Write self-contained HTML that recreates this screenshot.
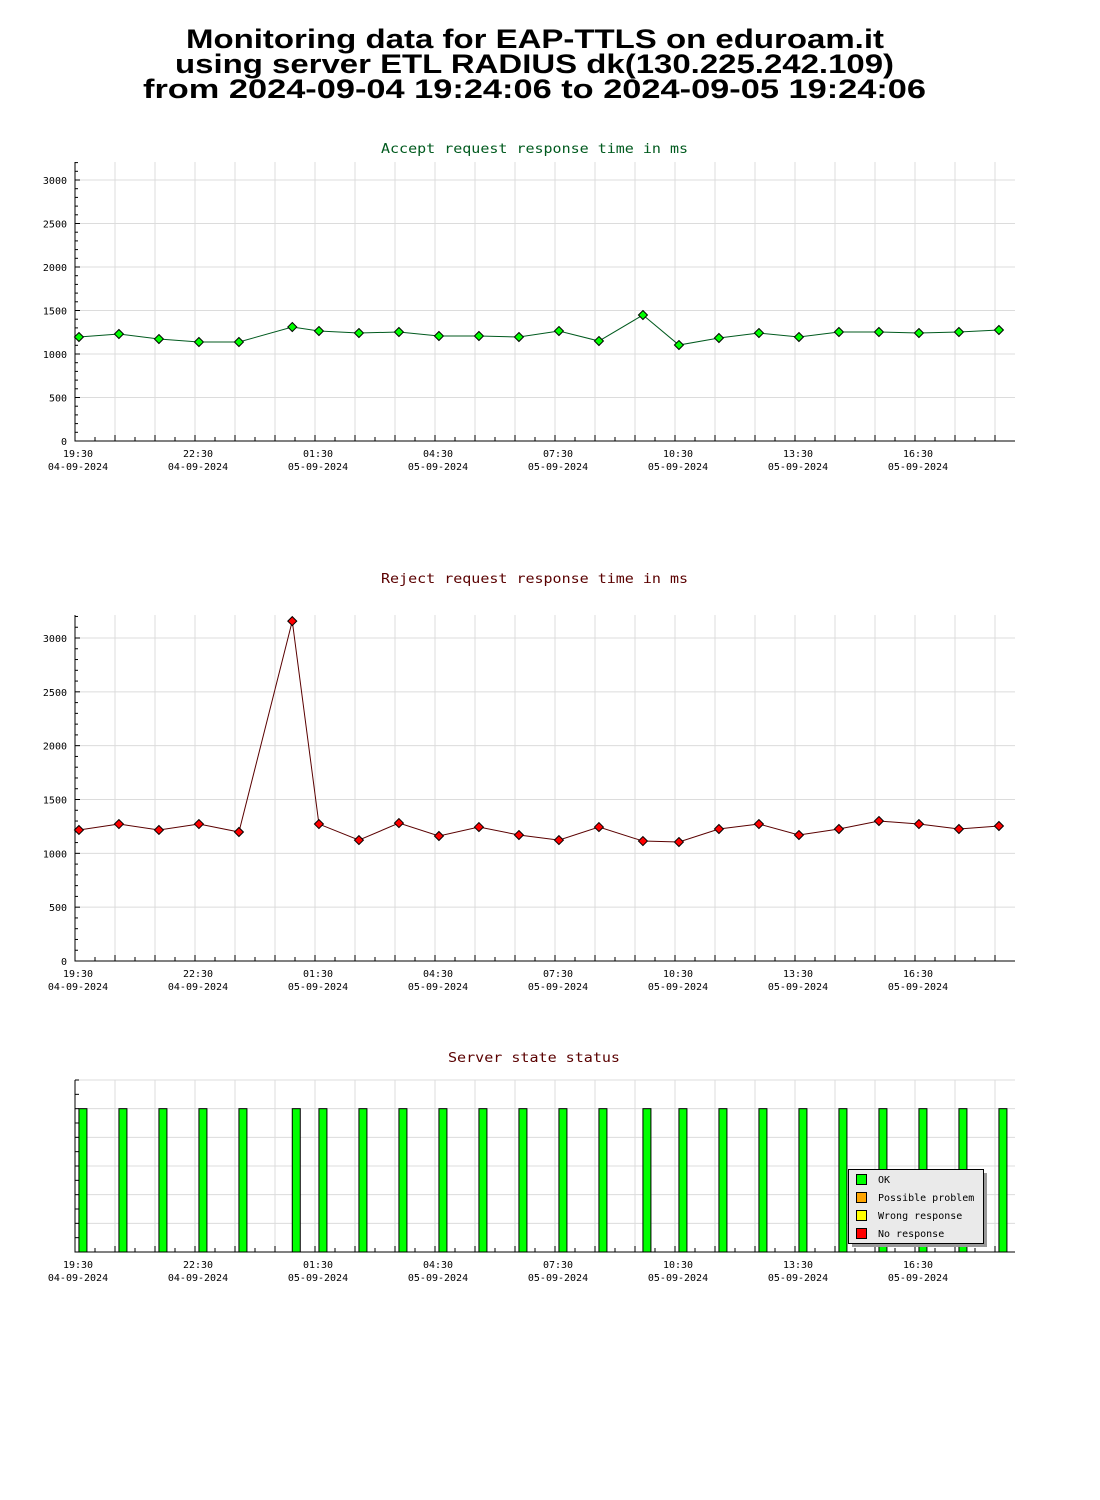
<!DOCTYPE html>
<html><head><meta charset="utf-8"><style>
body{margin:0;background:#fff;width:1100px;height:1500px;overflow:hidden}
svg{display:block}
text{font-family:"DejaVu Sans Mono","Liberation Mono",monospace}
</style></head><body>
<svg id="s" width="1100" height="1500" xmlns="http://www.w3.org/2000/svg">
<g font-weight="bold" font-size="27" fill="#000">
<text x="186" y="48" textLength="698" lengthAdjust="spacingAndGlyphs" style="font-family:'Liberation Sans',sans-serif">Monitoring data for EAP-TTLS on eduroam.it</text>
<text x="175" y="73" textLength="719" lengthAdjust="spacingAndGlyphs" style="font-family:'Liberation Sans',sans-serif">using server ETL RADIUS dk(130.225.242.109)</text>
<text x="143" y="98" textLength="783" lengthAdjust="spacingAndGlyphs" style="font-family:'Liberation Sans',sans-serif">from 2024-09-04 19:24:06 to 2024-09-05 19:24:06</text>
</g>
</svg>
<script>
const times=["19:30","20:30","21:30","22:30","23:30","00:50","01:30","02:30","03:30","04:30","05:30","06:30","07:30","08:30","09:36","10:30","11:30","12:30","13:30","14:30","15:30","16:30","17:30","18:30"];
const acceptValues=[1195,1230,1172,1138,1138,1310,1264,1241,1253,1207,1207,1195,1264,1149,1448,1103,1184,1241,1195,1253,1253,1241,1253,1276];
const rejectValues=[1217,1272,1217,1272,1198,3157,1272,1123,1281,1161,1244,1170,1123,1244,1114,1105,1226,1272,1170,1226,1300,1272,1226,1254];
const statusValues=[5,5,5,5,5,5,5,5,5,5,5,5,5,5,5,5,5,5,5,5,5,5,5,5];
const yTicks=[0,500,1000,1500,2000,2500,3000];
const xTickLabels=[["19:30","04-09-2024"],["22:30","04-09-2024"],["01:30","05-09-2024"],["04:30","05-09-2024"],["07:30","05-09-2024"],["10:30","05-09-2024"],["13:30","05-09-2024"],["16:30","05-09-2024"]];
const legendItems=[["OK","#00ff00"],["Possible problem","#ffa500"],["Wrong response","#ffff00"],["No response","#ff0000"]];

const NS="http://www.w3.org/2000/svg", svg=document.getElementById('s');
function mk(tag,attrs,parent,txt){const e=document.createElementNS(NS,tag);for(const k in attrs)e.setAttribute(k,attrs[k]);if(txt!==undefined)e.textContent=txt;(parent||svg).appendChild(e);return e;}
const X0=75,X1=1015,PXH=40;
function xOf(t){let [h,m]=t.split(':').map(Number);let mins=h*60+m-(19*60+24.1);if(mins<0)mins+=1440;return X0+mins/60*PXH;}

function frame(g,top,bot,gridYs){
  for(let x=X0+40;x<X1;x+=40){const l=mk('line',{x1:x,y1:top,x2:x,y2:bot,stroke:'#dcdcdc'},g);}
  gridYs.forEach(y=>{const l=mk('line',{x1:X0,y1:y,x2:X1,y2:y,stroke:'#dcdcdc'},g);});
  for(let x=X0+20;x<X1;x+=40){mk('line',{x1:x,y1:bot,x2:x,y2:bot-4,stroke:'#000'},g);}
  for(let x=X0+40;x<X1;x+=40){mk('line',{x1:x,y1:bot,x2:x,y2:bot-6,stroke:'#000'},g);}
  const ax=mk('path',{d:`M${X0},${top}V${bot}H${X1}`,stroke:'#000',fill:'none'},g);
  xTickLabels.forEach((lb,i)=>{const x=78+120*i;
    const t1=mk('text',{x:x,y:bot+16,'font-size':10,'text-anchor':'middle'},g,lb[0]);
    const t2=mk('text',{x:x,y:bot+29,'font-size':10,'text-anchor':'middle'},g,lb[1]);});
}
function lineChart(name,title,tcol,values,top,bot,y3000,lineCol,markCol,titleY){
  const g=mk('g',{});
  const yOf=v=>bot-(bot-y3000)*v/3000;
  const tt=mk('text',{x:381,y:titleY,'font-size':13,textLength:307,lengthAdjust:'spacingAndGlyphs',fill:tcol},g,title);
  frame(g,top,bot,yTicks.slice(1).map(yOf));
  for(let v=100;v<=3200;v+=100){const y=yOf(v);if(y<top)break;mk('line',{x1:X0,y1:y,x2:X0+(v%500?3:5),y2:y,stroke:'#000'},g);}
  yTicks.forEach(v=>{const t=mk('text',{x:67,y:yOf(v)+4,'font-size':10,'text-anchor':'end'},g,v);});
  const pts=values.map((v,i)=>[xOf(times[i]),yOf(v)]);
  const pl=mk('polyline',{points:pts.map(p=>p.join(',')).join(' '),fill:'none',stroke:lineCol,'stroke-width':1},g);
  pts.forEach(p=>{const m=mk('path',{d:`M${p[0]},${p[1]-4.5}l4.5,4.5l-4.5,4.5l-4.5,-4.5z`,fill:markCol,stroke:'#000','stroke-width':1},g);});
}
lineChart('accept-chart','Accept request response time in ms','#005a1e',acceptValues,162,441,180,'#005a1e','#00ff00',153);
lineChart('reject-chart','Reject request response time in ms','#5a0000',rejectValues,615,961,638,'#5a0000','#ff0000',583);

(function(){
  const g=mk('g',{});
  const top=1080,bot=1252,yOf=v=>bot-(bot-top)*v/6;
  const tt=mk('text',{x:448,y:1062,'font-size':13,textLength:172,lengthAdjust:'spacingAndGlyphs',fill:'#5a0000'},g,'Server state status');
  frame(g,top,bot,[1,2,3,4,5,6].map(yOf));
  for(let k=0.5;k<=6;k+=0.5){mk('line',{x1:X0,y1:yOf(k),x2:X0+4,y2:yOf(k),stroke:'#000'},g);}
  statusValues.forEach((v,i)=>{const x=xOf(times[i]);const r=mk('rect',{x:x,y:yOf(v),width:8,height:bot-yOf(v),fill:'#00ff00',stroke:'#000'},g);});
  const lg=mk('g',{},g);
  mk('rect',{x:852,y:1173,width:135,height:74,fill:'#999'},lg);
  mk('rect',{x:848.5,y:1169.5,width:135,height:74,fill:'#eaeaea',stroke:'#000'},lg);
  legendItems.forEach((it,i)=>{const y=1174+18*i;
    const sw=mk('rect',{x:856.5,y:y+0.5,width:10,height:10,fill:it[1],stroke:'#000'},lg);
    const t=mk('text',{x:878,y:y+9,'font-size':10},lg,it[0]);});
})();
</script>
</body></html>
